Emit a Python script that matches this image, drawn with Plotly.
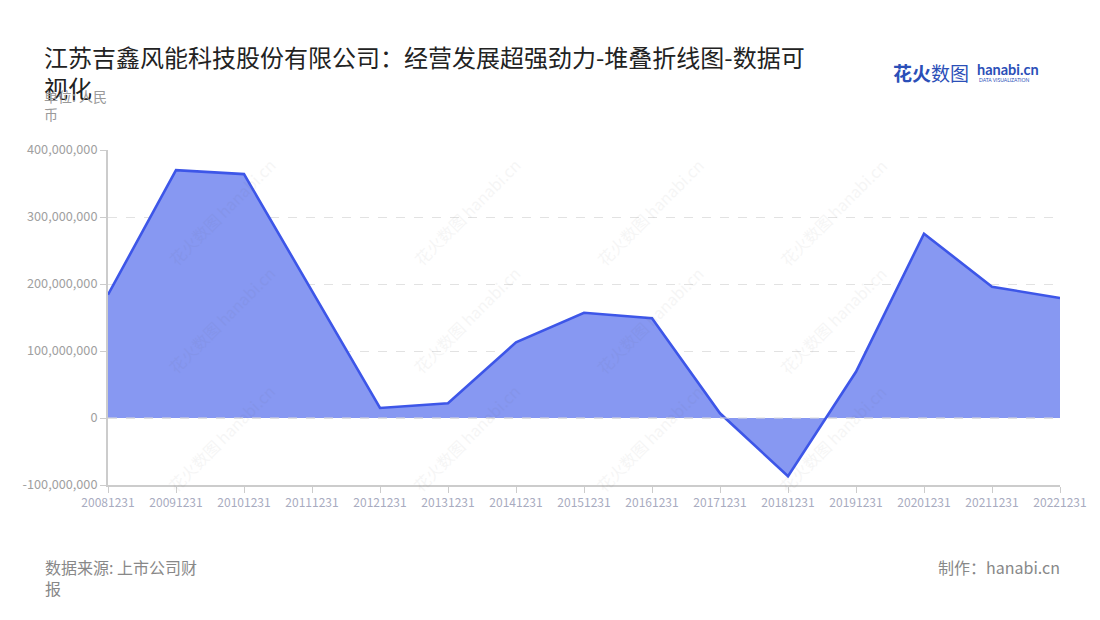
import plotly.graph_objects as go

years = ["20081231", "20091231", "20101231", "20111231", "20121231", "20131231",
         "20141231", "20151231", "20161231", "20171231", "20181231", "20191231",
         "20201231", "20211231", "20221231"]
profit = [184e6, 370e6, 364e6, 190e6, 15e6, 22e6, 113e6, 157e6, 149e6, 7e6,
          -87e6, 69e6, 275e6, 196e6, 179e6]
y_ticks = [-100e6, 0, 100e6, 200e6, 300e6, 400e6]
y_tick_text = ["-100,000,000", "0", "100,000,000", "200,000,000", "300,000,000", "400,000,000"]

title_text = "江苏吉鑫风能科技股份有限公司：经营发展超强劲力-堆叠折线图-数据可<br>视化"
font = "Noto Sans CJK SC"

fig = go.Figure()
fig.add_trace(go.Scatter(
    x=years, y=profit, mode="lines", fill="tozeroy",
    line=dict(color="#3d56e8", width=2.6),
    fillcolor="rgba(135,152,242,1)",
    hoverinfo="x+y",
))

fig.update_layout(
    width=1100, height=620,
    margin=dict(l=100, r=48, t=142, b=143),
    paper_bgcolor="white", plot_bgcolor="white",
    showlegend=False,
    font=dict(family=font),
    xaxis=dict(
        type="category", range=[0, 14],
        showgrid=False, showline=True, linecolor="#cccccc", linewidth=2,
        ticks="outside", tickcolor="#cccccc", ticklen=6,
        tickfont=dict(size=12, color="#a8abc0"),
    ),
    yaxis=dict(
        range=[-100e6, 400e6], tickvals=y_ticks, ticktext=y_tick_text,
        showgrid=True, gridcolor="#e2e2e2", griddash="dash", gridwidth=1,
        zeroline=False,
        showline=True, linecolor="#cccccc", linewidth=2,
        ticks="outside", tickcolor="#cccccc", ticklen=6,
        tickfont=dict(size=12.7, color="#a0a0a0"),
    ),
)

fig.add_shape(type="line", xref="paper", yref="y", x0=0, x1=1, y0=0, y1=0,
              line=dict(color="#dddddd", width=1, dash="dash"), layer="above")


def px(P):
    return (P - 108) / 952


def py(P):
    return 1 - (P - 150) / 335


fig.add_annotation(text=title_text, xref="paper", yref="paper",
                   x=px(42), y=py(37), xanchor="left", yanchor="top",
                   align="left", showarrow=False,
                   font=dict(size=24, color="#222222", family=font))
fig.add_annotation(text="单位: 人民<br>币", xref="paper", yref="paper",
                   x=px(42), y=py(84), xanchor="left", yanchor="top",
                   align="left", showarrow=False,
                   font=dict(size=14, color="#9a9a9a", family=font))
fig.add_annotation(text="数据来源: 上市公司财<br>报", xref="paper", yref="paper",
                   x=px(43), y=py(553), xanchor="left", yanchor="top",
                   align="left", showarrow=False,
                   font=dict(size=16, color="#888888", family=font))
fig.add_annotation(text="制作：hanabi.cn", xref="paper", yref="paper",
                   x=px(1062), y=py(553), xanchor="right", yanchor="top",
                   align="right", showarrow=False,
                   font=dict(size=16, color="#888888", family=font))
# logo
fig.add_annotation(text="<b>花火</b>数图", xref="paper", yref="paper",
                   x=px(891), y=py(73), xanchor="left", yanchor="middle",
                   showarrow=False, font=dict(size=19, color="#2b4fb8", family=font))
fig.add_annotation(text="<b>hanabi.cn</b>", xref="paper", yref="paper",
                   x=px(975), y=py(69), xanchor="left", yanchor="middle",
                   showarrow=False, font=dict(size=14.5, color="#2b4fb8", family="Lato"))
fig.add_annotation(text="DATA VISUALIZATION", xref="paper", yref="paper",
                   x=px(977), y=py(80), xanchor="left", yanchor="middle",
                   showarrow=False, font=dict(size=5, color="#2b4fb8", family="Lato"))

# watermarks
for wx in [160, 405, 650, 895]:
    for wy in [150, 320, 500]:
        fig.add_annotation(text="花火数图 hanabi.cn", xref="paper", yref="paper",
                           x=px(wx), y=py(wy), textangle=-45,
                           showarrow=False, opacity=0.05,
                           font=dict(size=16, color="#555555", family=font))

fig.write_html("out.html")
